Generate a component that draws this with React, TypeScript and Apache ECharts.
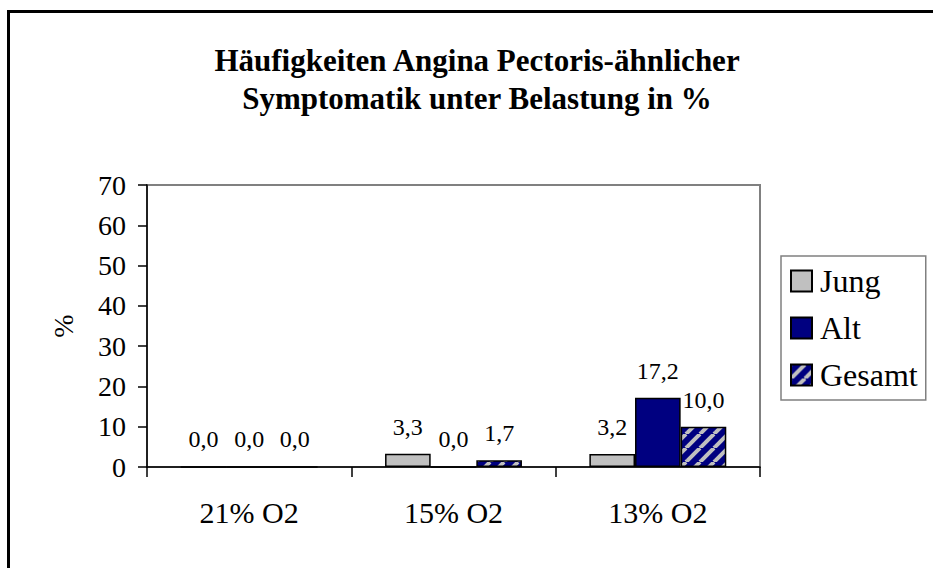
import React, { useEffect, useRef } from "react";
import * as echarts from "echarts";

const categories = ["21% O2", "15% O2", "13% O2"];
const seriesNames = ["Jung", "Alt", "Gesamt"];
const jungValues = [0.0, 3.3, 3.2];
const altValues = [0.0, 0.0, 17.2];
const gesamtValues = [0.0, 1.7, 10.0];
const yTicks = { min: 0, max: 70, interval: 10 };
const titleLines = ["Häufigkeiten Angina Pectoris-ähnlicher", "Symptomatik unter Belastung in %"];

const SERIF = "'Liberation Serif', 'Times New Roman', serif";

function makeStripePattern(): HTMLCanvasElement {
  const s = 14;
  const c = document.createElement("canvas");
  c.width = s;
  c.height = s;
  const ctx = c.getContext("2d")!;
  ctx.fillStyle = "#000080";
  ctx.fillRect(0, 0, s, s);
  ctx.strokeStyle = "#C0C0C0";
  ctx.lineWidth = 4;
  for (let k = -1; k <= 1; k++) {
    ctx.beginPath();
    ctx.moveTo(k * s, s);
    ctx.lineTo(k * s + s, 0);
    ctx.stroke();
  }
  return c;
}

export default function App() {
  const ref = useRef<HTMLDivElement>(null);
  useEffect(() => {
    if (!ref.current) return;
    document.body.style.margin = "0";
    document.body.style.overflow = "hidden";
    const chart = echarts.init(ref.current, null, { renderer: "svg" });
    const pattern = { image: makeStripePattern(), repeat: "repeat" } as any;
    const fmt = (p: any) => Number(p.value).toFixed(1).replace(".", ",");
    const labelCfg = {
      show: true,
      position: "top",
      distance: 15,
      formatter: fmt,
      fontFamily: SERIF,
      fontSize: 24,
      color: "#000",
    };
    const colors = ["#C0C0C0", "#000080", pattern];
    const values = [jungValues, altValues, gesamtValues];
    chart.setOption({
      animation: false,
      backgroundColor: "#fff",
      graphic: [
        {
          type: "text",
          x: 477,
          y: 41,
          style: {
            text: titleLines.join("\n"),
            textAlign: "center",
            fontFamily: SERIF,
            fontWeight: "bold",
            fontSize: 31,
            lineHeight: 38,
            fill: "#000",
          },
        },
      ],
      grid: {
        left: 147,
        top: 185,
        right: 173,
        bottom: 101,
        show: true,
        borderColor: "#808080",
        borderWidth: 2,
        backgroundColor: "transparent",
      },
      legend: {
        orient: "vertical",
        left: 781,
        top: 256,
        icon: "rect",
        itemWidth: 21,
        itemHeight: 21,
        itemGap: 15,
        padding: [9, 8, 9, 9],
        borderColor: "#808080",
        borderWidth: 1.5,
        backgroundColor: "#fff",
        textStyle: { fontFamily: SERIF, fontSize: 32, color: "#000", padding: [0, 0, 0, 3] },
        data: seriesNames,
      },
      xAxis: {
        type: "category",
        data: categories,
        boundaryGap: true,
        axisLine: { lineStyle: { color: "#000", width: 1.5 } },
        axisTick: { show: true, length: 10, lineStyle: { color: "#000", width: 1.5 } },
        axisLabel: { fontFamily: SERIF, fontSize: 30, color: "#000", margin: 30 },
      },
      yAxis: {
        type: "value",
        min: yTicks.min,
        max: yTicks.max,
        interval: yTicks.interval,
        name: "%",
        nameLocation: "middle",
        nameRotate: 90,
        nameGap: 70,
        nameTextStyle: { fontFamily: SERIF, fontSize: 28, color: "#000" },
        splitLine: { show: false },
        axisLine: { show: true, lineStyle: { color: "#000", width: 1.5 } },
        axisTick: { show: true, length: 9, lineStyle: { color: "#000", width: 1.5 } },
        axisLabel: { fontFamily: SERIF, fontSize: 28, color: "#000", margin: 21 },
      },
      series: seriesNames.map((name, i) => ({
        name,
        type: "bar",
        data: values[i],
        barGap: "0%",
        barCategoryGap: "33%",
        itemStyle: { color: colors[i], borderColor: "#000", borderWidth: 1.5 },
        label: labelCfg,
      })),
    });
    return () => chart.dispose();
  }, []);
  return (
    <div style={{ position: "relative", width: 933, height: 568, overflow: "hidden" }}>
      <div ref={ref} style={{ width: 933, height: 568 }} />
      <div
        style={{
          position: "absolute",
          left: 7,
          top: 10,
          width: 926,
          height: 2.5,
          background: "#000",
          pointerEvents: "none",
        }}
      />
      <div
        style={{
          position: "absolute",
          left: 7,
          top: 10,
          width: 2.5,
          height: 558,
          background: "#000",
          pointerEvents: "none",
        }}
      />
    </div>
  );
}
